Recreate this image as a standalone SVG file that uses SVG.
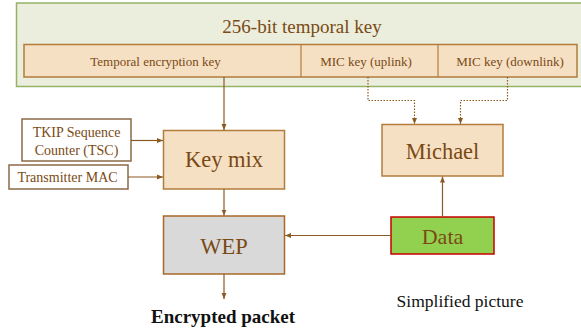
<svg xmlns="http://www.w3.org/2000/svg" width="581" height="331" viewBox="0 0 581 331" font-family="'Liberation Serif', 'Times New Roman', serif">
<style>
text{font-family:'Liberation Serif','Times New Roman',serif;fill:#7a4a14;text-anchor:middle}
.box{fill:#f6e0c4;stroke:#b27c3c;stroke-width:1.5}
.wbox{fill:#ffffff;stroke:#8a6a48;stroke-width:1.5}
.ln{fill:none;stroke:#8b5a22;stroke-width:1.2}
.dot{fill:none;stroke:#8b5a22;stroke-width:1.2;stroke-dasharray:1.5 1.5}
</style>
<defs>
<marker id="ah" viewBox="0 0 6 6" refX="6" refY="3" markerWidth="6" markerHeight="6" markerUnits="userSpaceOnUse" orient="auto">
<path d="M0,0.5 L6,3 L0,5.5 Z" fill="#8b5a22"/>
</marker>
</defs>
<g id="temporal-key">
<rect x="16.5" y="3" width="580" height="83.5" fill="#ebeedd" stroke="#96b266" stroke-width="1.5"/>
<text x="302" y="33" font-size="19">256-bit temporal key</text>
<rect class="box" x="24" y="44.5" width="553" height="32.5"/>
<line x1="301" y1="44.5" x2="301" y2="77" stroke="#b27c3c" stroke-width="1.2"/>
<line x1="438" y1="44.5" x2="438" y2="77" stroke="#b27c3c" stroke-width="1.2"/>
<text x="155.5" y="66" font-size="13">Temporal encryption key</text>
<text x="366" y="66" font-size="13">MIC key (uplink)</text>
<text x="510" y="66" font-size="13">MIC key (downlink)</text>
</g>
<g id="tsc">
<rect class="wbox" x="22" y="119" width="109" height="42"/>
<text x="76.5" y="137" font-size="14">TKIP Sequence</text>
<text x="76.5" y="155" font-size="14">Counter (TSC)</text>
</g>
<g id="mac">
<rect class="wbox" x="9" y="165" width="119" height="24"/>
<text x="67.5" y="182" font-size="14">Transmitter MAC</text>
</g>
<g id="keymix">
<rect class="box" x="163.5" y="130.5" width="121" height="58.5"/>
<text x="224" y="167" font-size="22.5">Key mix</text>
</g>
<g id="michael">
<rect class="box" x="382" y="124.5" width="121" height="51.5"/>
<text x="442.5" y="159" font-size="22.5">Michael</text>
</g>
<g id="wep">
<rect x="163.5" y="216" width="121" height="58" fill="#d9d9d9" stroke="#a8682a" stroke-width="1.5"/>
<text x="224" y="253.5" font-size="22.5">WEP</text>
</g>
<g id="data">
<rect x="391" y="217" width="103" height="37" fill="#92d050" stroke="#c80000" stroke-width="1.5"/>
<text x="442.5" y="243.5" font-size="22">Data</text>
</g>
<g id="labels">
<text x="223" y="323" font-size="19" font-weight="bold" style="fill:#111111">Encrypted packet</text>
<text x="460" y="307" font-size="17.5" style="fill:#111111">Simplified picture</text>
</g>
<g id="connectors">
<line class="ln" x1="224" y1="77" x2="224" y2="130" marker-end="url(#ah)"/>
<line class="ln" x1="131" y1="140.5" x2="163" y2="140.5" marker-end="url(#ah)"/>
<line class="ln" x1="128" y1="177" x2="163" y2="177" marker-end="url(#ah)" stroke="#a07850"/>
<line class="ln" x1="224" y1="189" x2="224" y2="215.5" marker-end="url(#ah)"/>
<line class="ln" x1="224" y1="274" x2="224" y2="299" marker-end="url(#ah)"/>
<line class="ln" x1="391" y1="235.5" x2="285" y2="235.5" marker-end="url(#ah)"/>
<line class="ln" x1="442.5" y1="217" x2="442.5" y2="176.5" marker-end="url(#ah)"/>
<polyline class="dot" points="368,77 368,100.5 414.5,100.5 414.5,124" marker-end="url(#ah)"/>
<polyline class="dot" points="507.5,77 507.5,100.5 460.5,100.5 460.5,124" marker-end="url(#ah)"/>
</g>
</svg>
